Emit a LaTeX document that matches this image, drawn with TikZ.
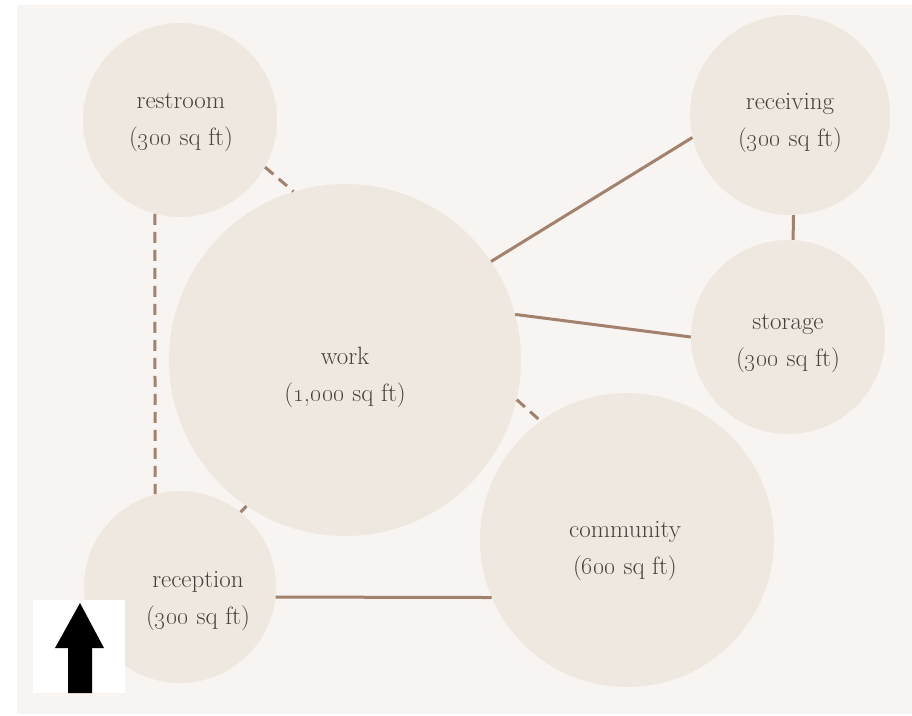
\documentclass[tikz,border=0pt]{standalone}
\definecolor{pagebg}{HTML}{F8F4F1}
\definecolor{roomfill}{HTML}{EFE8E0}
\definecolor{linkc}{HTML}{A2816D}
\definecolor{txt}{HTML}{4A3F3A}
\begin{document}
\begin{tikzpicture}[x=1pt,y=-1pt,
  room/.style={circle, fill=roomfill, draw=none, inner sep=0pt},
  roomtext/.style={align=center, text=txt, inner sep=0pt, font=\fontsize{25}{37}\selectfont},
  link/.style={draw=linkc, line width=3pt},
  dlink/.style={link, dash pattern=on 11pt off 7pt}]
\useasboundingbox (0,0) rectangle (912,715);
\fill[white] (0,0) rectangle (912,715);
\fill[pagebg] (17,5) rectangle (912,714);

% rooms
\node[room, minimum size=194pt] (restroom) at (180,120) {};
\node[room, minimum size=352pt] (work) at (345,360) {};
\node[room, minimum size=200pt] (receiving) at (790,115) {};
\node[room, minimum size=194pt] (storage) at (788,337) {};
\node[room, minimum size=294pt] (community) at (627,540) {};
\node[room, minimum size=192pt] (reception) at (180,587) {};

% labels
\node[roomtext] (restroomt) at (181,122) {restroom\\(\oldstylenums{300} sq ft)};
\node[roomtext] (workt) at (345,377) {work\\(\oldstylenums{1,000} sq ft)};
\node[roomtext] (receivingt) at (790,123) {receiving\\(\oldstylenums{300} sq ft)};
\node[roomtext] (storaget) at (788,343) {storage\\(\oldstylenums{300} sq ft)};
\node[roomtext] (communityt) at (625,551) {community\\(\oldstylenums{600} sq ft)};
\node[roomtext] (receptiont) at (198,601) {reception\\(\oldstylenums{300} sq ft)};

% connectors
\draw[dlink] (restroom.-29.5) -- (work.107);
\draw[dlink] (restroom.255) -- (reception.105);
\draw[dlink] (work.236) -- (reception.51);
\draw[dlink] (work.-13) -- (community.126);
\draw[link] (work.34.6) -- (receiving.193);
\draw[link] (work.15.8) -- (storage.180.6);
\draw[link] (receiving.-88) -- (storage.87);
\draw[link] (reception.-6) -- (community.203);

% north arrow
\fill[white] (33,600) rectangle (125,693);
\fill[black] (80,603) -- (104,648) -- (92,648) -- (92,693) -- (68,693) -- (68,648) -- (55,648) -- cycle;
\end{tikzpicture}
\end{document}
